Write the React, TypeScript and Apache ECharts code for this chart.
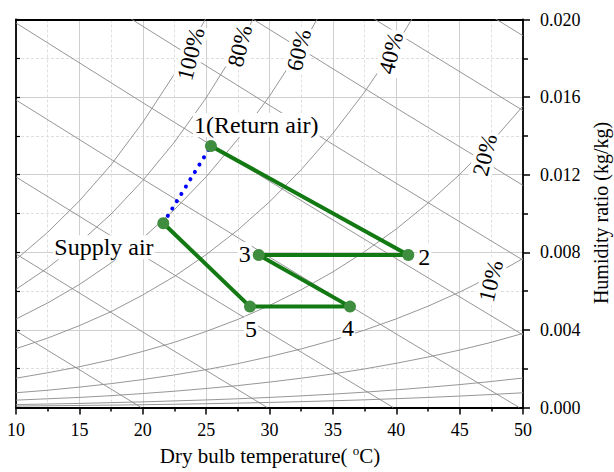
import React, { useEffect, useRef } from 'react';
import * as echarts from 'echarts';

const FONT = 'Liberation Serif';

// Dry-bulb temperatures (°C) at which the relative-humidity curves are tabulated
const rhTemps = [10, 12.5, 15, 17.5, 20, 22.5, 25, 27.5, 30, 32.5, 35, 37.5, 40, 42.5, 45, 47.5, 50];

// Humidity ratio (kg/kg) along each relative-humidity curve
const rh100 = [0.00763, 0.00903, 0.01065, 0.01251, 0.0147, 0.01719, 0.02008];
const rh80 = [0.00609, 0.0072, 0.00849, 0.00997, 0.0117, 0.01368, 0.01596, 0.01857, 0.02158];
const rh60 = [0.00456, 0.00539, 0.00634, 0.00745, 0.00873, 0.0102, 0.01189, 0.01383, 0.01605, 0.01857, 0.02145];
const rh40 = [0.00303, 0.00358, 0.00422, 0.00494, 0.0058, 0.00676, 0.00788, 0.00915, 0.0106, 0.01226, 0.01413, 0.01626, 0.01868, 0.02141];
const rh20 = [0.00151, 0.00179, 0.0021, 0.00246, 0.00289, 0.00336, 0.00392, 0.00454, 0.00526, 0.00607, 0.00699, 0.00803, 0.0092, 0.01053, 0.01201, 0.01367, 0.01554];
const rh10 = [0.00076, 0.00089, 0.00105, 0.00123, 0.00144, 0.00168, 0.00195, 0.00226, 0.00262, 0.00302, 0.00347, 0.00399, 0.00457, 0.00522, 0.00595, 0.00676, 0.00768];
const rh5 = [0.00038, 0.00045, 0.00052, 0.00061, 0.00072, 0.00084, 0.00098, 0.00113, 0.00131, 0.00151, 0.00173, 0.00199, 0.00228, 0.0026, 0.00296, 0.00336, 0.00382];
const rh2 = [0.00015, 0.00018, 0.00021, 0.00025, 0.00029, 0.00034, 0.00039, 0.00045, 0.00052, 0.0006, 0.00069, 0.00079, 0.00091, 0.00104, 0.00118, 0.00134, 0.00152];
const rh1 = [0.000075, 0.000089, 0.000105, 0.000123, 0.000144, 0.000167, 0.000195, 0.000226, 0.000261, 0.000301, 0.000346, 0.000396, 0.000454, 0.000518, 0.000589, 0.00067, 0.000759];
const rhCurves = [rh100, rh80, rh60, rh40, rh20, rh10, rh5, rh2, rh1];

// Constant-enthalpy lines (kJ/kg dry air): [temperature, humidity ratio] pairs
const h20 = [[10, 0.003945], [19.88, 0]];
const h30 = [[10, 0.007914], [20, 0.003893], [29.82, 0]];
const h40 = [[10, 0.011883], [20, 0.007832], [30, 0.003841], [39.76, 0]];
const h50 = [[10, 0.015852], [20, 0.011772], [30, 0.007752], [40, 0.00379], [49.7, 0]];
const h60 = [[10, 0.019821], [20, 0.015712], [30, 0.011663], [40, 0.007673], [50, 0.003739]];
const h70 = [[10, 0.02379], [20, 0.019652], [30, 0.015574], [40, 0.011555], [50, 0.007594]];
const h80 = [[20, 0.023592], [30, 0.019485], [40, 0.015438], [50, 0.01145]];
const h90 = [[30, 0.023396], [40, 0.019321], [50, 0.015305]];
const h100 = [[40, 0.023204], [50, 0.01916]];
const enthalpyLines = [h20, h30, h40, h50, h60, h70, h80, h90, h100];

// Process states: 1 (return air), 2, 3, 4, 5, supply air
const processNames = ['1(Return air)', '2', '3', '4', '5', 'Supply air'];
const processT = [25.38, 40.95, 29.15, 36.35, 28.46, 21.62];
const processW = [0.01348, 0.00786, 0.00786, 0.0052, 0.0052, 0.0095];

// Supply air -> return air (dotted)
const returnT = [21.62, 25.38];
const returnW = [0.0095, 0.01348];

// Relative-humidity curve labels and where they sit (data coords)
const rhLabels = ['100%', '80%', '60%', '40%', '20%', '10%'];
const rhLabelT = [23.81, 27.67, 32.33, 39.59, 47.0, 47.48];
const rhLabelW = [0.01822, 0.01863, 0.01843, 0.01827, 0.01302, 0.00652];

// Tick values
const xTicks = { min: 10, max: 50, interval: 5 };
const yTicks = { min: 0, max: 0.02, interval: 0.004 };

// label offsets (px) relative to the process point
const pointLabelOffsets = [
  { dx: -18, dy: -21, align: 'left' },
  { dx: 16, dy: 2, align: 'center' },
  { dx: -14, dy: -1, align: 'center' },
  { dx: -2, dy: 21, align: 'center' },
  { dx: 1, dy: 22, align: 'center' },
  { dx: -110, dy: 24, align: 'left' },
];

export default function App() {
  const ref = useRef<HTMLDivElement>(null);

  useEffect(() => {
    if (!ref.current) return;
    const chart = echarts.init(ref.current, null, { renderer: 'svg' });

    const grayLine = (data: number[][]) => ({
      type: 'line',
      data,
      xAxisIndex: 0,
      yAxisIndex: 0,
      symbol: 'none',
      showSymbol: false,
      silent: true,
      z: 1,
      lineStyle: { color: '#8a8a8a', width: 0.9 },
      clip: true,
    });

    const series: any[] = [];
    series.push({
      type: 'line',
      data: processT.map((t, i) => [t, processW[i]]),
      xAxisIndex: 0,
      yAxisIndex: 0,
      symbol: 'circle',
      symbolSize: 12,
      z: 6,
      lineStyle: { color: '#137a13', width: 4 },
      itemStyle: { color: '#3f8d3f', borderWidth: 0 },
    });
    series.push({
      type: 'line',
      data: returnT.map((t, i) => [t, returnW[i]]),
      xAxisIndex: 0,
      yAxisIndex: 0,
      symbol: 'none',
      z: 5,
      lineStyle: { color: '#0000ff', width: 4, type: [0.1, 8.5], cap: 'round' },
    });
    rhCurves.forEach((arr) => {
      series.push(grayLine(arr.map((w, i) => [rhTemps[i], w])));
    });
    enthalpyLines.forEach((pts) => series.push(grayLine(pts)));

    const axisFont = { fontFamily: FONT, fontSize: 18, color: '#000' };

    chart.setOption({
      animation: false,
      backgroundColor: '#ffffff',
      textStyle: { fontFamily: FONT },
      grid: { left: 16, right: 91, top: 19.5, bottom: 64.5, containLabel: false },
      xAxis: [
        {
          type: 'value',
          position: 'bottom',
          min: xTicks.min,
          max: xTicks.max,
          interval: xTicks.interval,
          axisLine: { show: true, onZero: false, lineStyle: { color: '#000', width: 1.8 } },
          axisTick: { show: true, inside: false, length: 7, lineStyle: { color: '#000', width: 1.5 } },
          minorTick: { show: true, splitNumber: 2, length: 4, lineStyle: { color: '#000', width: 1.5 } },
          axisLabel: { ...axisFont, margin: 13 },
          splitLine: { show: true, lineStyle: { color: '#cfcfcf', width: 1 } },
          minorSplitLine: { show: true, lineStyle: { color: '#dedede', width: 1, type: [3, 2] } },
        },
        {
          type: 'value',
          position: 'top',
          min: xTicks.min,
          max: xTicks.max,
          interval: xTicks.interval,
          axisLine: { show: true, onZero: false, lineStyle: { color: '#000', width: 1.8 } },
          axisTick: { show: false },
          axisLabel: { show: false },
          splitLine: { show: false },
        },
      ],
      yAxis: [
        {
          type: 'value',
          position: 'right',
          min: yTicks.min,
          max: yTicks.max,
          interval: yTicks.interval,
          axisLine: { show: true, onZero: false, lineStyle: { color: '#000', width: 1.8 } },
          axisTick: { show: true, inside: false, length: 7, lineStyle: { color: '#000', width: 1.5 } },
          minorTick: { show: true, splitNumber: 2, length: 5, lineStyle: { color: '#000', width: 1.5 } },
          axisLabel: { ...axisFont, margin: 17, formatter: (v: number) => v.toFixed(3) },
          splitLine: { show: true, lineStyle: { color: '#cfcfcf', width: 1 } },
          minorSplitLine: { show: true, lineStyle: { color: '#dedede', width: 1, type: [3, 2] } },
        },
        {
          type: 'value',
          position: 'left',
          min: yTicks.min,
          max: yTicks.max,
          interval: yTicks.interval / 2,
          axisLine: { show: true, onZero: false, lineStyle: { color: '#000', width: 1.8 } },
          axisTick: { show: true, inside: true, length: 4, lineStyle: { color: '#000', width: 1.2 } },
          axisLabel: { show: false },
          splitLine: { show: false },
        },
      ],
      series,
    });

    const px = (t: number, w: number) =>
      chart.convertToPixel({ seriesIndex: 0 }, [t, w]) as number[];

    const graphics: any[] = [];
    rhLabels.forEach((txt, i) => {
      const [x, y] = px(rhLabelT[i], rhLabelW[i]);
      graphics.push({
        type: 'text',
        x,
        y,
        rotation: (76 * Math.PI) / 180,
        z: 3,
        style: {
          text: txt,
          fontFamily: FONT,
          fontSize: 23,
          fill: '#000',
          align: 'center',
          verticalAlign: 'middle',
          backgroundColor: '#ffffff',
          padding: [0, 2],
        },
      });
    });
    processNames.forEach((txt, i) => {
      const [x, y] = px(processT[i], processW[i]);
      const o = pointLabelOffsets[i];
      graphics.push({
        type: 'text',
        x: x + o.dx,
        y: y + o.dy,
        z: 3,
        style: {
          text: txt,
          fontFamily: FONT,
          fontSize: 24,
          fill: '#000',
          align: o.align,
          verticalAlign: 'middle',
          backgroundColor: '#ffffff',
          padding: [0, 1],
        },
      });
    });
    graphics.push({
      type: 'text',
      x: 270,
      y: 456,
      z: 3,
      style: {
        text: '{a|Dry bulb temperature( }{s|o}{a|C)}',
        align: 'center',
        verticalAlign: 'middle',
        fill: '#000',
        rich: {
          a: { fontFamily: FONT, fontSize: 21, lineHeight: 24, fill: '#000' },
          s: { fontFamily: FONT, fontSize: 13, lineHeight: 13, verticalAlign: 'top', fill: '#000' },
        },
      },
    });
    graphics.push({
      type: 'text',
      x: 601,
      y: 213,
      rotation: Math.PI / 2,
      z: 3,
      style: {
        text: 'Humidity ratio (kg/kg)',
        fontFamily: FONT,
        fontSize: 20,
        fill: '#000',
        align: 'center',
        verticalAlign: 'middle',
      },
    });

    chart.setOption({ graphic: graphics });

    return () => chart.dispose();
  }, []);

  return (
    <div
      ref={ref}
      style={{ position: 'absolute', left: 0, top: 0, width: 614, height: 472, background: '#fff' }}
    />
  );
}
